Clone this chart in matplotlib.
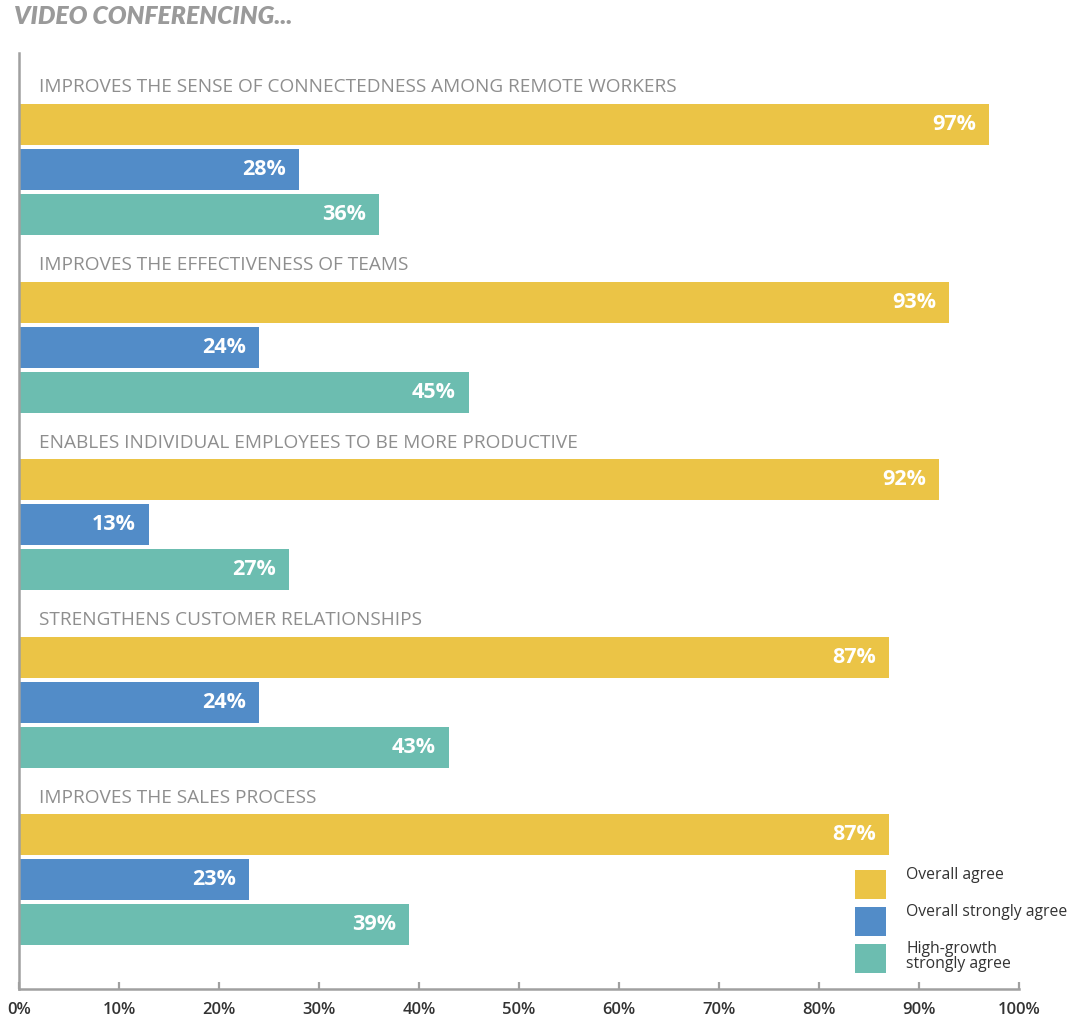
import numpy as np
import matplotlib.pyplot as plt
from matplotlib.patches import Rectangle

# Survey statements and the three agreement series (percent)
statements = [
    "IMPROVES THE SENSE OF CONNECTEDNESS AMONG REMOTE WORKERS",
    "IMPROVES THE EFFECTIVENESS OF TEAMS",
    "ENABLES INDIVIDUAL EMPLOYEES TO BE MORE PRODUCTIVE",
    "STRENGTHENS CUSTOMER RELATIONSHIPS",
    "IMPROVES THE SALES PROCESS",
]
overall_agree = [97, 93, 92, 87, 87]
overall_strongly = [28, 24, 13, 24, 23]
highgrowth_strongly = [36, 45, 27, 43, 39]

series_names = ["Overall agree", "Overall strongly agree", "High-growth\nstrongly agree"]
series_colors = ["#EBC446", "#528CC8", "#6CBDB0"]
x_ticks = [0, 10, 20, 30, 40, 50, 60, 70, 80, 90, 100]

FONT = "Open Sans"
GREY = "#8E8E8E"
AXIS_GREY = "#A0A0A0"

# vertical layout (axis units, top = 0)
FIRST = 71.5
GROUP_STEP = 177.6
BAR_STEP = 45
BAR_H = 41
AX_H = 936

fig = plt.figure(figsize=(10.78, 10.24), dpi=100)
ax = fig.add_axes([19 / 1078, 35 / 1024, 1000 / 1078, AX_H / 1024])

all_series = [overall_agree, overall_strongly, highgrowth_strongly]
group_pos = FIRST + np.arange(len(statements)) * GROUP_STEP

for j, (vals, color) in enumerate(zip(all_series, series_colors)):
    ypos = group_pos + j * BAR_STEP
    bars = ax.barh(ypos, vals, height=BAR_H, color=color, zorder=2)
    for b, v in zip(bars, vals):
        ax.text(b.get_width() - 1.3, b.get_y() + b.get_height() / 2, f"{v}%",
                ha="right", va="center", color="white", fontsize=15.5,
                fontweight="bold", family=FONT, zorder=3)

for y, s in zip(group_pos, statements):
    ax.text(2.0, y - 37, s, ha="left", va="center", color=GREY,
            fontsize=13.7, family=FONT)

ax.set_xlim(0, 100)
ax.set_ylim(AX_H, 0)
ax.set_yticks([])
ax.set_xticks(x_ticks)
ax.set_xticklabels([f"{t}%" for t in x_ticks], family=FONT, fontsize=12,
                   color="#333333", fontweight="semibold")
ax.tick_params(axis="x", direction="in", length=5, width=1.6, color=AXIS_GREY, pad=9)

for side in ["top", "right"]:
    ax.spines[side].set_visible(False)
for side in ["left", "bottom"]:
    ax.spines[side].set_color(AXIS_GREY)
    ax.spines[side].set_linewidth(1.8)

# legend drawn by hand: square swatches with text beside them (axes fraction)
sw_x, sw_w, sw_h = 0.836, 0.031, 29 / AX_H
sw_tops = [1 - 817 / AX_H, 1 - 854 / AX_H, 1 - 891 / AX_H]
for top, color, name in zip(sw_tops, series_colors, series_names):
    ax.add_patch(Rectangle((sw_x, top - sw_h), sw_w, sw_h, transform=ax.transAxes,
                           facecolor=color, edgecolor="none", clip_on=False))
    ax.text(0.887, top + 0.003, name, transform=ax.transAxes, ha="left", va="top",
            fontsize=11.3, family=FONT, color="#333333", linespacing=0.9)

fig.text(14 / 1078, 1 - 17 / 1024, "VIDEO CONFERENCING...", ha="left", va="center",
         color="#9A9A9A", fontsize=17.8, fontweight="heavy", style="italic", family="Lato")

fig.savefig("out.png", dpi=100, facecolor="white")
